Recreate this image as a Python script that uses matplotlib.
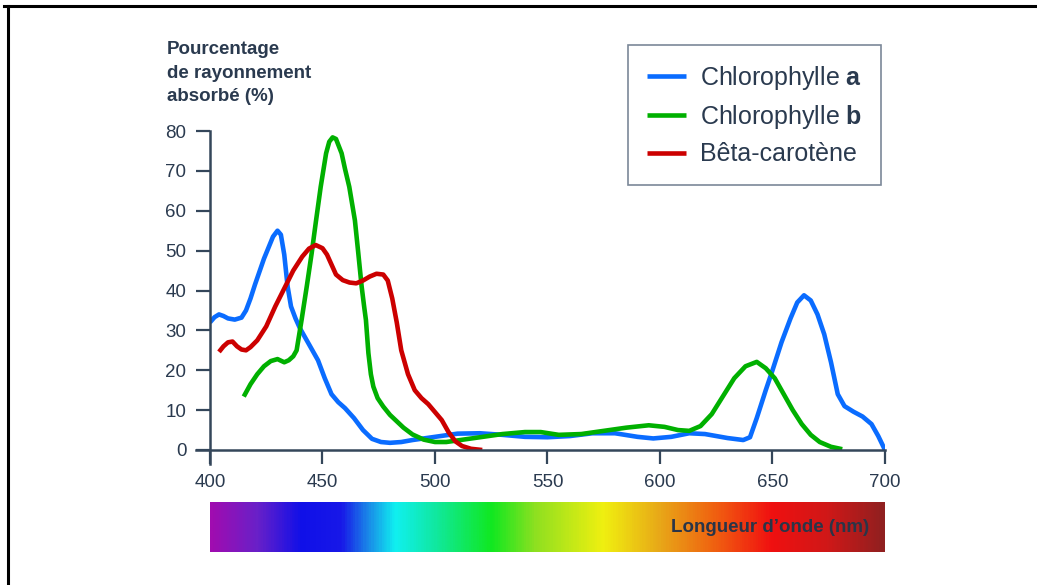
import numpy as np
import matplotlib
matplotlib.use("Agg")
import matplotlib.pyplot as plt
from matplotlib.lines import Line2D
from matplotlib.colors import LinearSegmentedColormap

plt.rcParams['font.family'] = ['Liberation Sans', 'DejaVu Sans']
plt.rcParams['mathtext.fontset'] = 'custom'
plt.rcParams['mathtext.rm'] = 'Liberation Sans'
plt.rcParams['mathtext.bf'] = 'Liberation Sans:bold'

# ---- data ----
chl_a_nm = [400, 402, 404, 406, 408, 411, 414, 416, 418, 420, 424, 428, 430, 431.5, 433, 434.5, 436,
            438, 440, 444, 448, 451, 454, 457, 460, 464, 468, 472, 476, 480, 485, 490, 500, 510,
            520, 530, 540, 550, 560, 570, 580, 590, 597, 605, 613, 620, 630, 637, 640, 643, 647,
            650, 654, 658, 661, 664, 667, 670, 673, 676, 679, 682, 686, 690, 694, 697, 700]
chl_a_val = [32, 33.3, 34, 33.6, 33, 32.7, 33.2, 35, 38, 41.5, 48, 53.5, 55, 54, 49, 41, 36,
             33, 30.5, 26.5, 22.5, 18, 14, 12, 10.5, 8, 5, 2.8, 2, 1.8, 2, 2.5, 3.3, 4.1,
             4.2, 3.8, 3.3, 3.2, 3.5, 4.2, 4.2, 3.3, 2.9, 3.3, 4.2, 4.0, 3, 2.5, 3.2, 8, 15,
             20, 27, 33, 37, 38.8, 37.5, 34, 29, 22, 14, 11, 9.6, 8.4, 6.5, 3.5, 0]

chl_b_nm = [415, 418, 421, 424, 427, 430, 433, 435, 437, 438.5, 440.7, 443, 445.2, 447, 449.2,
            451.6, 453, 454.5, 456, 458.5, 460, 461.9, 464.4, 465.9, 467.4, 468.5, 469.3, 470.4,
            471.5, 472.6, 474.5, 477, 480, 483, 486, 490, 495, 500, 505, 510, 520, 530, 540, 547,
            555, 565, 575, 585, 595, 602, 608, 613, 618, 623, 628, 633, 638, 643, 647, 651, 655,
            659, 663, 667, 671, 676, 681]
chl_b_val = [13.4, 16.5, 19, 21, 22.3, 22.8, 22, 22.5, 23.5, 25, 32.6, 41, 49.4, 57, 66,
             74.4, 77.3, 78.4, 78, 74.4, 70.5, 66, 57.6, 49.4, 41, 36, 32.6, 24.3,
             19, 15.9, 13, 10.9, 8.8, 7.2, 5.6, 3.9, 2.6, 2, 2, 2.4, 3.2, 4, 4.5, 4.5,
             3.8, 4, 4.8, 5.6, 6.2, 5.8, 5, 4.8, 6, 9, 13.5, 18, 21, 22.1, 20.5, 18, 14,
             10, 6.5, 3.8, 2, 0.8, 0.2]

beta_nm = [404, 406, 408, 410, 412, 414, 416, 418, 421, 425, 429, 433, 437, 441, 444, 447, 450,
           452, 454, 456, 459, 462, 465, 468, 471, 474, 477, 479, 481, 483, 485, 488, 491, 494,
           497, 500, 503, 506, 509, 512, 516, 521]
beta_val = [24.6, 26, 27, 27.2, 26, 25.2, 25, 25.8, 27.5, 31, 36, 40.5, 45, 48.5, 50.5, 51.4, 50.6,
            49, 46.5, 44, 42.6, 42, 41.8, 42.5, 43.5, 44.2, 44, 42.5, 38, 32, 25, 19, 15, 13,
            11.5, 9.5, 7.5, 4.5, 2.2, 1, 0.3, 0]

labels = [r"Chlorophylle $\mathbf{a}$", r"Chlorophylle $\mathbf{b}$", "Bêta-carotène"]
colors = ["#0a6cff", "#00b000", "#cc0000"]

x_ticks = [400, 450, 500, 550, 600, 650, 700]
y_ticks = [0, 10, 20, 30, 40, 50, 60, 70, 80]

spec_nm = [400, 420, 440, 458, 470, 482, 500, 525, 545, 575, 600, 625, 650, 675, 700]
spec_col = ["#a00cb0", "#6a20c8", "#1010e8", "#1818e8", "#1a8ae8", "#10f0f0", "#10e8a0",
            "#10e820", "#90e020", "#f0f010", "#e8a818", "#f06010", "#f01010", "#d01818", "#902020"]

ink = "#2a3a4f"
axis_c = "#34465a"

W, H = 1037, 585
fig = plt.figure(figsize=(W / 100, H / 100), dpi=100)

ax = fig.add_axes([210 / W, 1 - 450 / H, 675 / W, 319 / H])
for xs, ys, c, lab in zip([chl_a_nm, chl_b_nm, beta_nm], [chl_a_val, chl_b_val, beta_val], colors, labels):
    ax.plot(xs, ys, color=c, lw=3.3, label=lab, solid_capstyle='butt', solid_joinstyle='round')

ax.set_xlim(400, 700)
ax.set_ylim(0, 80)
ax.set_xticks(x_ticks)
ax.set_yticks(y_ticks)
for s in ['top', 'right']:
    ax.spines[s].set_visible(False)
for s in ['left', 'bottom']:
    ax.spines[s].set_color(axis_c)
    ax.spines[s].set_linewidth(1.8)
ax.spines['bottom'].set_bounds(400 - 14 / 2.25, 700)
ax.spines['left'].set_bounds(-14 / 3.99, 80)
ax.spines['bottom'].set_clip_on(False)
ax.spines['left'].set_clip_on(False)
ax.tick_params(axis='both', length=10, width=1.6, color=axis_c, labelcolor=ink, labelsize=13.5, pad=7)

leg = ax.legend(loc='upper left', bbox_to_anchor=((628 - 210) / 675, (450 - 45) / 319),
                fontsize=18, frameon=True, fancybox=False, handlelength=1.55, handletextpad=0.6,
                labelspacing=0.45, borderpad=0.75, borderaxespad=0)
leg.get_frame().set_edgecolor("#5a6a7e")
leg.get_frame().set_linewidth(1.2)
for t in leg.get_texts():
    t.set_color(ink)

fig.text(167 / W, 1 - 41 / H, "Pourcentage\nde rayonnement\nabsorbé (%)", ha='left', va='top',
         fontsize=13.5, fontweight='bold', color=ink, linespacing=1.5)

# spectrum bar
cax = fig.add_axes([210 / W, 1 - 552 / H, 675 / W, 50 / H])
cmap = LinearSegmentedColormap.from_list(
    "spec", [((n - 400) / 300, c) for n, c in zip(spec_nm, spec_col)])
grad = np.linspace(400, 700, 600)[None, :]
cax.imshow(grad, aspect='auto', cmap=cmap, extent=[400, 700, 0, 1], vmin=400, vmax=700)
cax.set_axis_off()
cax.text(693, 0.5, "Longueur d\u2019onde (nm)", ha='right', va='center', fontsize=13.5,
         fontweight='bold', color="#2a3548")

# frame lines
fig.add_artist(Line2D([4 / W, 1], [1 - 6 / H, 1 - 6 / H], color='black', lw=2.2, transform=fig.transFigure))
fig.add_artist(Line2D([8 / W, 8 / W], [0, 1 - 6 / H], color='black', lw=2.2, transform=fig.transFigure))

fig.savefig("out.png", dpi=100)
